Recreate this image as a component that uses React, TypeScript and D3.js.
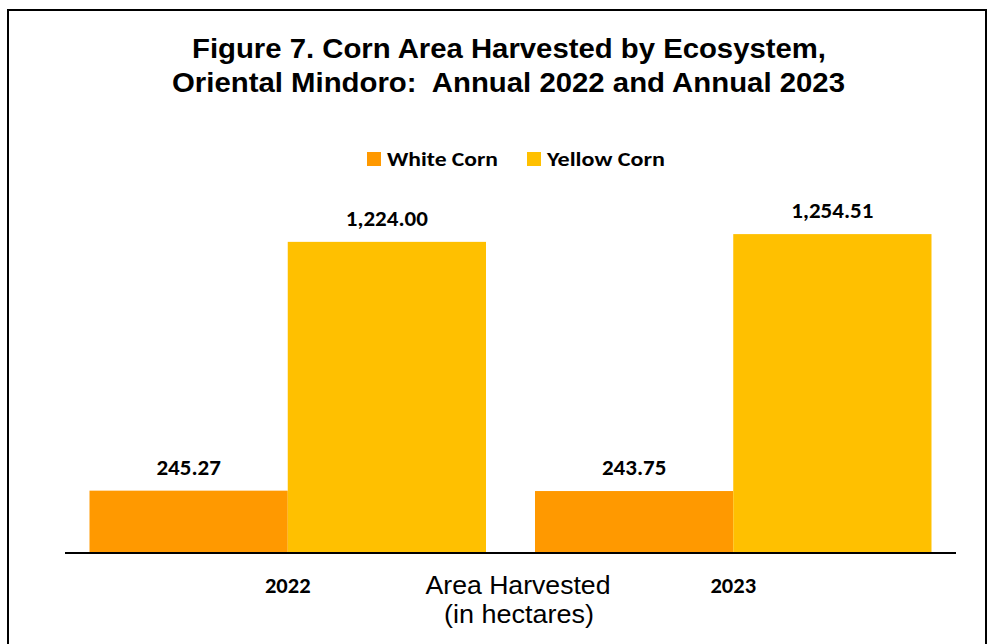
import React from "react";
import * as d3 from "d3";

const categories = ["2022", "2023"];
const seriesNames = ["White Corn", "Yellow Corn"];
const whiteCorn = [245.27, 243.75];
const yellowCorn = [1224.0, 1254.51];
const seriesColors = ["#FF9900", "#FFC000"];

export default function App() {
  const W = 989, H = 644;
  const left = 65, right = 956, baseline = 553;
  const x0 = d3.scaleBand().domain(categories).range([left, right]).paddingInner(0.11).paddingOuter(0.055);
  const x1 = d3.scaleBand().domain(seriesNames).range([0, x0.bandwidth()]);
  const y = d3.scaleLinear().domain([0, 1400]).range([baseline, baseline - 1400 * 0.2542]);
  const series = [whiteCorn, yellowCorn];
  const fmt = d3.format(",.2f");
  const labelFont = "Carlito, Lato, 'Open Sans', sans-serif";
  const arial = "'Liberation Sans', Arial, sans-serif";
  return (
    <svg width={W} height={H} style={{ position: "absolute", left: 0, top: 0 }}>
      <rect x={0} y={0} width={W} height={H} fill="#fff" />
      <rect x={8} y={10} width={978} height={700} fill="none" stroke="#000" strokeWidth={2} />
      <text x={509} y={58} textAnchor="middle" fontFamily={arial} fontWeight="bold" fontSize={28}
        textLength={634} lengthAdjust="spacingAndGlyphs">
        Figure 7. Corn Area Harvested by Ecosystem,
      </text>
      <text x={508.5} y={92} textAnchor="middle" fontFamily={arial} fontWeight="bold" fontSize={28}
        textLength={673} lengthAdjust="spacingAndGlyphs" style={{ whiteSpace: "pre" }}>
        {"Oriental Mindoro:  Annual 2022 and Annual 2023"}
      </text>
      {/* legend */}
      {[{ x: 367, label: seriesNames[0], c: seriesColors[0], w: 111 }, { x: 527, label: seriesNames[1], c: seriesColors[1], w: 118 }].map((l) => (
        <g key={l.label}>
          <rect x={l.x} y={152} width={14} height={14} fill={l.c} />
          <text x={l.x + 20} y={166} fontFamily={labelFont} fontWeight="bold" fontSize={21}
            textLength={l.w} lengthAdjust="spacingAndGlyphs">{l.label}</text>
        </g>
      ))}
      {categories.map((c, i) => (
        <g key={c}>
          {series.map((s, j) => {
            const bx = x0(c)! + x1(seriesNames[j])!;
            return (
              <g key={j}>
                <rect x={bx} y={y(s[i])} width={x1.bandwidth()} height={baseline - y(s[i])} fill={seriesColors[j]} />
                <text x={bx + x1.bandwidth() / 2} y={y(s[i]) - 16} textAnchor="middle" fontFamily={labelFont} fontWeight="bold" fontSize={23}>
                  {fmt(s[i])}
                </text>
              </g>
            );
          })}
          <text x={x0(c)! + x0.bandwidth() / 2} y={593} textAnchor="middle" fontFamily={labelFont} fontWeight="bold" fontSize={22.5}>{c}</text>
        </g>
      ))}
      <line x1={left} x2={right} y1={baseline} y2={baseline} stroke="#000" strokeWidth={2} />
      <text x={518} y={594} textAnchor="middle" fontFamily={arial} fontSize={26} textLength={185} lengthAdjust="spacingAndGlyphs">Area Harvested</text>
      <text x={519} y={623} textAnchor="middle" fontFamily={arial} fontSize={26} textLength={150} lengthAdjust="spacingAndGlyphs">(in hectares)</text>
    </svg>
  );
}
